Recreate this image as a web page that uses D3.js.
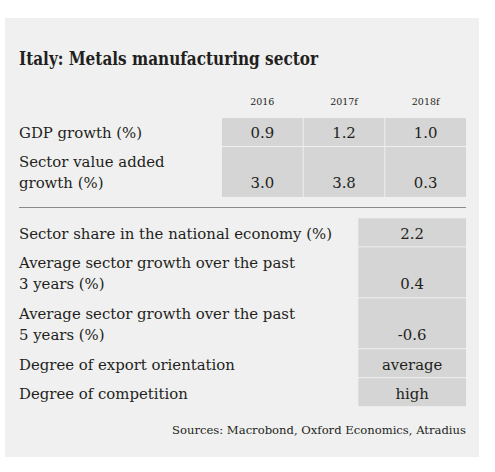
<!DOCTYPE html>
<html><head><meta charset="utf-8">
<script src="https://cdn.jsdelivr.net/npm/d3@7/dist/d3.min.js"></script>
<style>body{margin:0;background:#fff}svg{display:block}</style>
</head><body>
<script>
const title = "Italy: Metals manufacturing sector";
const years = ["2016", "2017f", "2018f"];
const topLabels = [["GDP growth (%)"], ["Sector value added", "growth (%)"]];
const gdpGrowth = ["0.9", "1.2", "1.0"];
const sectorGrowth = ["3.0", "3.8", "0.3"];
const bottomLabels = [
  ["Sector share in the national economy (%)"],
  ["Average sector growth over the past", "3 years (%)"],
  ["Average sector growth over the past", "5 years (%)"],
  ["Degree of export orientation"],
  ["Degree of competition"]
];
const bottomValues = ["2.2", "0.4", "-0.6", "average", "high"];
const source = "Sources: Macrobond, Oxford Economics, Atradius";

const W = 495, H = 472;
const svg = d3.select("body").append("svg").attr("width", W).attr("height", H);
const font = "'DejaVu Serif', serif";
const condFont = "'DejaVu Serif Condensed', 'DejaVu Serif', serif";
const ink = "#231f20";
const cellFill = "#d5d5d5";

svg.append("rect").attr("x", 5).attr("y", 18).attr("width", 474).attr("height", 439).attr("fill", "#f0f0f0");

svg.append("text").attr("x", 19).attr("y", 65).attr("font-family", condFont).attr("font-stretch", "condensed")
  .attr("font-weight", "bold").attr("font-size", 18).attr("textLength", 299).attr("lengthAdjust", "spacingAndGlyphs")
  .attr("fill", ink).text(title);

const x = d3.scaleBand().domain(years).range([222, 466]).paddingInner(0.0125);
const lineH = 21.3, single = 28, gap = 1;
function layout(rows, start) {
  let y = start;
  return rows.map(r => { const h = single + (r.length - 1) * lineH * 1.03; const o = {y, h}; y += h + gap; return o; });
}

svg.append("g").selectAll("text").data(years).join("text")
  .attr("x", d => x(d) + x.bandwidth() / 2).attr("y", 105).attr("text-anchor", "middle")
  .attr("font-family", font).attr("font-size", 9.5).attr("fill", ink).text(d => d);

const fs = 14.9;
const topRows = layout(topLabels, 118);
const topVals = [gdpGrowth, sectorGrowth];
topLabels.forEach((lab, i) => {
  const r = topRows[i];
  const g = svg.append("g");
  g.selectAll("rect").data(years).join("rect")
    .attr("x", d => x(d)).attr("y", r.y).attr("width", x.bandwidth()).attr("height", r.h).attr("fill", cellFill);
  g.selectAll("text.l").data(lab).join("text").attr("class", "l")
    .attr("x", 19).attr("y", (d, j) => r.y + 20 + j * lineH)
    .attr("font-family", font).attr("font-size", fs).attr("fill", ink).text(d => d);
  g.selectAll("text.v").data(topVals[i]).join("text").attr("class", "v")
    .attr("x", (d, j) => x(years[j]) + x.bandwidth() / 2).attr("y", r.y + 20 + (lab.length - 1) * lineH)
    .attr("text-anchor", "middle").attr("font-family", font).attr("font-size", fs).attr("fill", ink).text(d => d);
});

svg.append("line").attr("x1", 19).attr("x2", 466).attr("y1", 207.5).attr("y2", 207.5).attr("stroke", "#8a8a8a").attr("stroke-width", 1);

const bx = 358.3, bw = 466 - 358.3;
const botRows = layout(bottomLabels, 218.3);
bottomLabels.forEach((lab, i) => {
  const r = botRows[i];
  const g = svg.append("g");
  g.append("rect").attr("x", bx).attr("y", r.y).attr("width", bw).attr("height", r.h).attr("fill", cellFill);
  g.selectAll("text.l").data(lab).join("text").attr("class", "l")
    .attr("x", 19).attr("y", (d, j) => r.y + 20.5 + j * lineH)
    .attr("font-family", font).attr("font-size", fs).attr("fill", ink).text(d => d);
  g.append("text").attr("x", bx + bw / 2).attr("y", r.y + 20.5 + (lab.length - 1) * lineH)
    .attr("text-anchor", "middle").attr("font-family", font).attr("font-size", fs).attr("fill", ink).text(bottomValues[i]);
});

svg.append("text").attr("x", 466).attr("y", 434).attr("text-anchor", "end")
  .attr("font-family", font).attr("font-size", 11.6).attr("fill", ink).text(source);
</script>
</body></html>
